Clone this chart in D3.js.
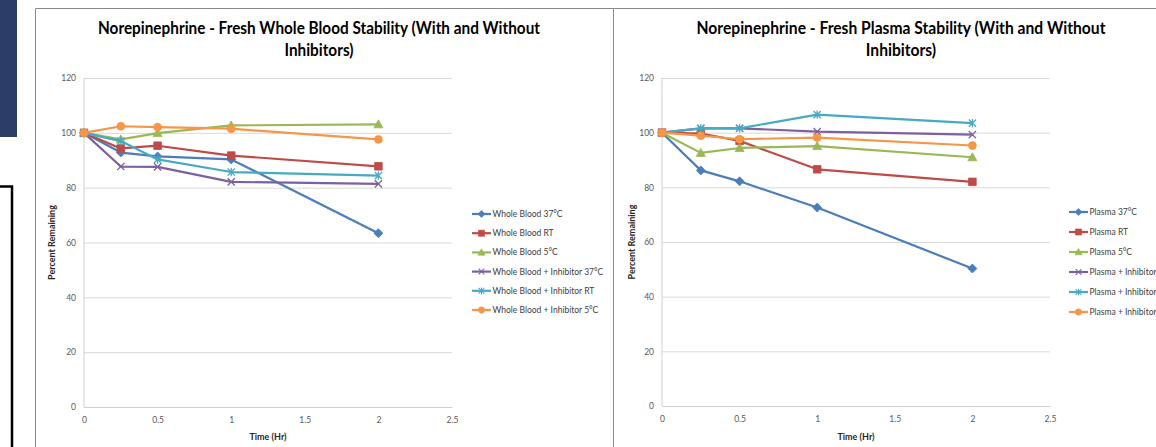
<!DOCTYPE html>
<html>
<head>
<meta charset="utf-8">
<script src="https://cdn.jsdelivr.net/npm/d3@7"></script>
<style>
  html, body { margin: 0; padding: 0; background: #fff; overflow: hidden; }
  svg { display: block; font-family: Lato, "Open Sans", sans-serif; }
</style>
</head>
<body>
<div class="chart"></div>
<script>
const width = 1156;
const height = 447;

// shared axis values
const times = [0, 0.25, 0.5, 1, 2];
const xTickValues = [0, 0.5, 1, 1.5, 2, 2.5];
const xTickLabels = ['0', '0.5', '1', '1.5', '2', '2.5'];
const yTickValues = [0, 20, 40, 60, 80, 100, 120];

// whole blood chart
const bloodTitle = ['Norepinephrine - Fresh Whole Blood Stability (With and Without', 'Inhibitors)'];
const bloodNames = ['Whole Blood 37°C', 'Whole Blood RT', 'Whole Blood 5°C',
  'Whole Blood + Inhibitor 37°C', 'Whole Blood + Inhibitor RT', 'Whole Blood + Inhibitor 5°C'];
const blood37 = [100, 92.8, 91.4, 90.3, 63.4];
const bloodRT = [100, 94.3, 95.3, 91.7, 87.8];
const blood5 = [100, 97.6, 99.9, 102.7, 103.1];
const bloodInh37 = [100, 87.7, 87.6, 82.1, 81.4];
const bloodInhRT = [100, 97.0, 90.3, 85.7, 84.4];
const bloodInh5 = [100, 102.4, 102.1, 101.5, 97.6];

// plasma chart
const plasmaTitle = ['Norepinephrine - Fresh Plasma Stability (With and Without', 'Inhibitors)'];
const plasmaNames = ['Plasma 37°C', 'Plasma RT', 'Plasma 5°C',
  'Plasma + Inhibitor 37°C', 'Plasma + Inhibitor RT', 'Plasma + Inhibitor 5°C'];
const plasma37 = [100, 86.2, 82.2, 72.6, 50.3];
const plasmaRT = [100, 99.7, 97.0, 86.6, 82.0];
const plasma5 = [100, 92.6, 94.4, 95.1, 91.0];
const plasmaInh37 = [100, 101.6, 101.6, 100.4, 99.3];
const plasmaInhRT = [100, 101.6, 101.6, 106.6, 103.5];
const plasmaInh5 = [100, 98.9, 97.6, 98.2, 95.3];

const colors = ['#4a7ebb', '#be4b48', '#98b954', '#7d60a0', '#46aac5', '#f79646'];
const markers = ['diamond', 'square', 'triangle', 'x', 'star', 'circle'];

const svg = d3.select('.chart')
  .append('svg')
  .attr('width', width)
  .attr('height', height);

// slide decorations at the left edge
svg.append('rect')
  .attr('x', 0).attr('y', 0)
  .attr('width', 17).attr('height', 137)
  .attr('fill', '#2c3d68');

svg.append('rect')
  .attr('x', -10).attr('y', 186.5)
  .attr('width', 22).attr('height', 300)
  .attr('fill', 'none')
  .attr('stroke', '#000')
  .attr('stroke-width', 2.5);

// chart frames
svg.append('path')
  .attr('d', 'M35.5,460V8.5H1160M613.5,8.5V460')
  .attr('fill', 'none')
  .attr('stroke', '#8a8a8a')
  .attr('stroke-width', 1);

function markerPath(type) {
  if (type === 'diamond') return 'M0,-4.5L4.5,0L0,4.5L-4.5,0Z';
  if (type === 'square') return 'M-3.8,-3.8H3.8V3.8H-3.8Z';
  if (type === 'triangle') return 'M0,-4.5L4.5,3.5H-4.5Z';
  if (type === 'x') return 'M-3.6,-3.6L3.6,3.6M-3.6,3.6L3.6,-3.6';
  if (type === 'star') return 'M-3.6,-3.6L3.6,3.6M-3.6,3.6L3.6,-3.6M0,-4.2V4.2';
  return d3.symbol(d3.symbolCircle, 48)();
}

function drawMarker(g, type, color) {
  const open = type === 'x' || type === 'star';
  g.append('path')
    .attr('d', markerPath(type))
    .attr('fill', open ? 'none' : color)
    .attr('stroke', color)
    .attr('stroke-width', open ? 1.3 : 0.8);
}

function drawChart(cfg) {
  const g = svg.append('g');

  const xScale = d3.scaleLinear().domain([0, 2.5]).range([cfg.left, cfg.right]);
  const yScale = d3.scaleLinear().domain([0, 120]).range([cfg.bottom, cfg.top]);

  // gridlines + y labels
  const yAxis = d3.axisLeft(yScale)
    .tickValues(yTickValues)
    .tickSize(-(cfg.right - cfg.left))
    .tickPadding(8);

  const yG = g.append('g')
    .attr('transform', `translate(${cfg.left}, 0)`)
    .call(yAxis);
  yG.select('.domain').remove();
  yG.selectAll('.tick line').attr('stroke', '#d9d9d9').attr('stroke-width', 1);
  yG.selectAll('.tick text')
    .attr('fill', '#595959')
    .style('font-size', '8.5px')
    .style('font-family', 'Lato, sans-serif');

  // axis lines
  g.append('line')
    .attr('x1', cfg.left).attr('x2', cfg.left)
    .attr('y1', cfg.top).attr('y2', cfg.bottom)
    .attr('stroke', '#d0d0d0');

  const xAxis = d3.axisBottom(xScale)
    .tickValues(xTickValues)
    .tickFormat((d, i) => xTickLabels[i])
    .tickSize(0)
    .tickPadding(10);

  const xG = g.append('g')
    .attr('transform', `translate(0, ${cfg.bottom})`)
    .call(xAxis);
  xG.select('.domain').attr('stroke', '#d0d0d0');
  xG.selectAll('.tick text')
    .attr('fill', '#595959')
    .style('font-size', '8.5px')
    .style('font-family', 'Lato, sans-serif');

  // axis titles
  g.append('text')
    .attr('transform', `translate(${cfg.yTitleX}, ${(cfg.top + cfg.bottom) / 2}) rotate(-90)`)
    .attr('text-anchor', 'middle')
    .attr('dy', '0.35em')
    .attr('fill', '#262626')
    .style('font-size', '9px')
    .style('font-weight', 'bold')
    .text('Percent Remaining');

  g.append('text')
    .attr('x', (cfg.left + cfg.right) / 2)
    .attr('y', 440)
    .attr('text-anchor', 'middle')
    .attr('fill', '#262626')
    .style('font-size', '9px')
    .style('font-weight', 'bold')
    .text('Time (Hr)');

  // title, squeezed to Calibri-like width
  const t1 = g.append('text')
    .attr('x', cfg.titleX).attr('y', 34)
    .attr('text-anchor', 'middle')
    .attr('fill', '#000')
    .style('font-size', '16.5px')
    .style('font-weight', 'bold')
    .text(cfg.title[0]);
  const natural = t1.node().getComputedTextLength();
  const ratio = cfg.titleWidth / natural;
  t1.attr('textLength', cfg.titleWidth).attr('lengthAdjust', 'spacingAndGlyphs');

  const t2 = g.append('text')
    .attr('x', cfg.titleX).attr('y', 56)
    .attr('text-anchor', 'middle')
    .attr('fill', '#000')
    .style('font-size', '16.5px')
    .style('font-weight', 'bold')
    .text(cfg.title[1]);
  t2.attr('textLength', t2.node().getComputedTextLength() * ratio)
    .attr('lengthAdjust', 'spacingAndGlyphs');

  // series
  const line = d3.line()
    .x((d, i) => xScale(times[i]))
    .y((d) => yScale(d));

  cfg.series.forEach((values, s) => {
    g.append('path')
      .datum(values)
      .attr('d', line)
      .attr('fill', 'none')
      .attr('stroke', colors[s])
      .attr('stroke-width', 2.2)
      .attr('stroke-linejoin', 'round');

    values.forEach((v, i) => {
      const m = g.append('g')
        .attr('transform', `translate(${xScale(times[i])}, ${yScale(v)})`);
      drawMarker(m, markers[s], colors[s]);
    });
  });

  // legend
  cfg.names.forEach((name, s) => {
    const ly = cfg.legendY + s * cfg.legendStep;
    const lg = g.append('g').attr('transform', `translate(${cfg.legendX}, ${ly})`);
    lg.append('line')
      .attr('x1', 0).attr('x2', 19)
      .attr('stroke', colors[s])
      .attr('stroke-width', 2.2);
    const m = lg.append('g').attr('transform', 'translate(9.5, 0) scale(0.8)');
    drawMarker(m, markers[s], colors[s]);
    lg.append('text')
      .attr('x', 20.5)
      .attr('dy', '0.35em')
      .attr('fill', '#404040')
      .style('font-size', '8.5px')
      .text(name);
  });
}

drawChart({
  left: 84, right: 452, top: 78, bottom: 407,
  title: bloodTitle, titleX: 319, titleWidth: 442,
  yTitleX: 52,
  legendX: 472, legendY: 214, legendStep: 19.2,
  names: bloodNames,
  series: [blood37, bloodRT, blood5, bloodInh37, bloodInhRT, bloodInh5]
});

drawChart({
  left: 662, right: 1050, top: 78, bottom: 406,
  title: plasmaTitle, titleX: 901, titleWidth: 409,
  yTitleX: 632,
  legendX: 1069, legendY: 212, legendStep: 20,
  names: plasmaNames,
  series: [plasma37, plasmaRT, plasma5, plasmaInh37, plasmaInhRT, plasmaInh5]
});
</script>
</body>
</html>
